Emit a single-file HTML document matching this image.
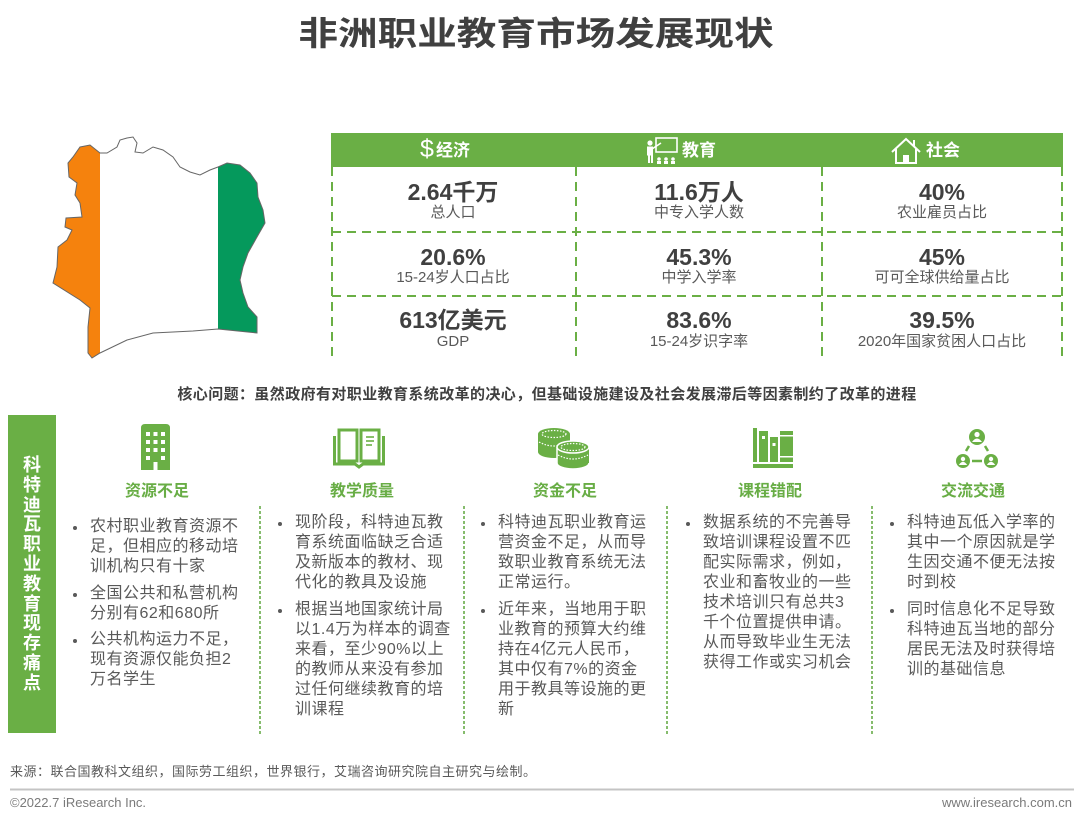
<!DOCTYPE html>
<html><head><meta charset="utf-8">
<style>
html,body{margin:0;padding:0;background:#fff;}
body{width:1080px;height:824px;position:relative;overflow:hidden;font-family:"Liberation Sans","Noto Sans CJK SC",sans-serif;}
.a{position:absolute;white-space:nowrap;}
.title{left:236px;width:600px;top:8px;text-align:center;font-size:33px;font-weight:bold;color:#404040;line-height:46px;transform:scaleX(1.2);transform-origin:center;font-family:"Noto Sans CJK SC",sans-serif;}
.hd{color:#fff;font-weight:bold;font-size:17px;line-height:20px;top:141px;}
.num{width:240px;text-align:center;font-size:23px;font-weight:bold;color:#404040;line-height:26px;}
.lab{width:240px;text-align:center;font-size:15px;color:#595959;line-height:18px;}
.core{left:47px;width:1000px;text-align:center;top:385px;font-size:15px;font-weight:bold;color:#404040;letter-spacing:0.4px;line-height:20px;}
.vbar{left:8px;top:415px;width:48px;height:318px;background:#6aaf45;}
.vtext{left:8px;width:48px;top:456px;text-align:center;color:#fff;font-weight:bold;font-size:18px;line-height:19.8px;white-space:normal;}
.ct{width:160px;text-align:center;color:#68ad45;font-weight:bold;font-size:16px;line-height:20px;top:482px;}
.col{font-size:16px;line-height:20px;color:#595959;letter-spacing:0.5px;}
.col .b{position:relative;margin-bottom:6.5px;}
.col .b::before{content:"";position:absolute;left:-17px;top:9px;width:4px;height:4px;border-radius:50%;background:#595959;}
.src{left:10px;top:763px;font-size:13px;color:#595959;letter-spacing:0.5px;line-height:18px;}
.cp{left:10px;top:795px;font-size:13px;color:#7a7a7a;line-height:16px;}
.url{right:8px;top:795px;font-size:13px;color:#7a7a7a;line-height:16px;}
</style></head>
<body>

<div class="a title">非洲职业教育市场发展现状</div>

<svg class="a" style="left:0;top:0" width="1080" height="824" viewBox="0 0 1080 824">
  <defs>
    <clipPath id="civ">
      <path d="M80,147 L90,145 L100,153 L107,153 L117,147 L120,140 L127,138 L133,137 L137,143 L135,152 L143,153 L153,147 L163,150 L173,157 L180,167 L190,172 L200,175 L210,170 L218,167 L227,163 L240,165 L250,173 L257,183 L258,197 L263,210 L265,223 L257,237 L248,253 L243,267 L240,280 L243,293 L248,307 L257,317 L257,333 L218,329 L193,331 L153,333 L127,340 L100,353 L92,358 L88,353 L88,327 L90,308 L80,300 L53,283 L57,267 L58,247 L67,240 L72,230 L65,227 L66,218 L82,217 L80,203 L75,195 L77,183 L69,177 L68,163 L73,157 Z"/>
    </clipPath>
  </defs>
  <!-- map -->
  <g clip-path="url(#civ)">
    <rect x="40" y="130" width="60" height="240" fill="#F5820D"/>
    <rect x="100" y="130" width="118" height="240" fill="#ffffff"/>
    <rect x="218" y="130" width="60" height="240" fill="#05995C"/>
  </g>
  <path d="M80,147 L90,145 L100,153 L107,153 L117,147 L120,140 L127,138 L133,137 L137,143 L135,152 L143,153 L153,147 L163,150 L173,157 L180,167 L190,172 L200,175 L210,170 L218,167 L227,163 L240,165 L250,173 L257,183 L258,197 L263,210 L265,223 L257,237 L248,253 L243,267 L240,280 L243,293 L248,307 L257,317 L257,333 L218,329 L193,331 L153,333 L127,340 L100,353 L92,358 L88,353 L88,327 L90,308 L80,300 L53,283 L57,267 L58,247 L67,240 L72,230 L65,227 L66,218 L82,217 L80,203 L75,195 L77,183 L69,177 L68,163 L73,157 Z" fill="none" stroke="#666" stroke-width="1"/>

  <!-- table header -->
  <rect x="331" y="133" width="732" height="34" fill="#6aaf45"/>
  <!-- table dashed lines -->
  <g stroke="#6aaf45" stroke-width="2" stroke-dasharray="9 6" fill="none">
    <line x1="332" y1="167" x2="332" y2="360"/>
    <line x1="1062" y1="167" x2="1062" y2="360"/>
    <line x1="576" y1="167" x2="576" y2="360"/>
    <line x1="822" y1="167" x2="822" y2="360"/>
    <line x1="332" y1="232" x2="1062" y2="232"/>
    <line x1="332" y1="296" x2="1062" y2="296"/>
  </g>

  <!-- header icons -->
  <g fill="none" stroke="#fff" stroke-width="1.6">
    <rect x="656" y="138" width="21" height="14"/>
    <line x1="652" y1="149" x2="661" y2="143"/>
  </g>
  <g fill="#fff">
    <circle cx="650" cy="143" r="2.6"/>
    <rect x="647" y="146.5" width="6" height="9"/>
    <rect x="648" y="155" width="2" height="8"/>
    <rect x="651" y="155" width="2" height="8"/>
    <circle cx="659" cy="159" r="1.8"/><rect x="657" y="161" width="4" height="3"/>
    <circle cx="666" cy="159" r="1.8"/><rect x="664" y="161" width="4" height="3"/>
    <circle cx="673" cy="159" r="1.8"/><rect x="671" y="161" width="4" height="3"/>
  </g>
  <g fill="none" stroke="#fff" stroke-width="2">
    <path d="M892,152 L906,139 L920,152"/>
    <path d="M896,149 V163 H916 V149"/>
    <line x1="914" y1="140" x2="914" y2="146"/>
  </g>
  <rect x="903" y="155" width="6" height="8" fill="#fff"/>

  <!-- lower dividers -->
  <g stroke="#5fa53d" stroke-width="1.5" stroke-dasharray="3 2" fill="none">
    <line x1="260" y1="506" x2="260" y2="736"/>
    <line x1="464" y1="506" x2="464" y2="736"/>
    <line x1="667" y1="506" x2="667" y2="736"/>
    <line x1="872" y1="506" x2="872" y2="736"/>
  </g>

  <!-- building icon -->
  <path d="M141,470 V428 Q141,424 145,424 H166 Q170,424 170,428 V470 Z" fill="#6aaf45"/>
  <g fill="#fff">
    <rect x="146" y="432" width="4" height="4"/><rect x="153.5" y="432" width="4" height="4"/><rect x="161" y="432" width="4" height="4"/>
    <rect x="146" y="440" width="4" height="4"/><rect x="153.5" y="440" width="4" height="4"/><rect x="161" y="440" width="4" height="4"/>
    <rect x="146" y="448" width="4" height="4"/><rect x="153.5" y="448" width="4" height="4"/><rect x="161" y="448" width="4" height="4"/>
    <rect x="146" y="456" width="4" height="4"/><rect x="161" y="456" width="4" height="4"/>
    <rect x="153.5" y="462" width="4" height="8"/>
  </g>

  <!-- book icon -->
  <g fill="none" stroke="#6aaf45" stroke-width="3">
    <path d="M334.5,436 V464 H355 L359,467 L363,464 H383.5 V436"/>
    <rect x="339" y="430" width="18" height="31"/>
    <rect x="361" y="430" width="18" height="31"/>
  </g>
  <g stroke="#6aaf45" stroke-width="1.6">
    <line x1="366" y1="437" x2="374" y2="437"/>
    <line x1="366" y1="441" x2="374" y2="441"/>
    <line x1="366" y1="445" x2="372" y2="445"/>
  </g>

  <!-- coins icon -->
  <g>
    <ellipse cx="554" cy="452" rx="16" ry="6" fill="#6aaf45"/>
    <rect x="538" y="434" width="32" height="18" fill="#6aaf45"/>
    <ellipse cx="554" cy="434" rx="16" ry="6" fill="#6aaf45"/>
    <ellipse cx="554" cy="434" rx="12" ry="3.5" fill="none" stroke="#fff" stroke-width="1.2" stroke-dasharray="1.5 1.5"/>
    <path d="M539,442 Q554,450 569,442" fill="none" stroke="#fff" stroke-width="1.2" stroke-dasharray="1.5 1.5"/>
    <ellipse cx="573" cy="463" rx="16" ry="6" fill="#6aaf45" stroke="#fff" stroke-width="1.5"/>
    <rect x="557" y="447" width="32" height="16" fill="#6aaf45"/>
    <line x1="557" y1="447" x2="557" y2="463" stroke="#fff" stroke-width="1.5"/>
    <ellipse cx="573" cy="447" rx="16" ry="6" fill="#6aaf45" stroke="#fff" stroke-width="1.5"/>
    <ellipse cx="573" cy="447" rx="12" ry="3.5" fill="none" stroke="#fff" stroke-width="1.2" stroke-dasharray="1.5 1.5"/>
    <path d="M558,455 Q573,463 588,455" fill="none" stroke="#fff" stroke-width="1.2" stroke-dasharray="1.5 1.5"/>
  </g>

  <!-- books icon -->
  <g fill="#6aaf45">
    <rect x="753" y="428" width="4" height="34"/>
    <rect x="759" y="431" width="9" height="31"/>
    <rect x="770" y="437" width="8" height="25"/>
    <rect x="780" y="431" width="13" height="31"/>
    <rect x="753" y="464" width="40" height="4"/>
  </g>
  <g fill="#fff">
    <rect x="762" y="436" width="3" height="3"/>
    <rect x="772.5" y="443" width="3" height="3"/>
    <rect x="780" y="435" width="13" height="1.5"/>
    <rect x="780" y="456" width="13" height="1.5"/>
  </g>

  <!-- network icon -->
  <g>
    <circle cx="977" cy="437" r="8" fill="#6aaf45"/>
    <circle cx="963" cy="461" r="7" fill="#6aaf45"/>
    <circle cx="991" cy="461" r="7" fill="#6aaf45"/>
    <g fill="#fff">
      <circle cx="977" cy="434.5" r="2.6"/><path d="M972,442 Q977,435 982,442 Z"/>
      <circle cx="963" cy="459" r="2.2"/><path d="M958.8,465 Q963,458.5 967.2,465 Z"/>
      <circle cx="991" cy="459" r="2.2"/><path d="M986.8,465 Q991,458.5 995.2,465 Z"/>
    </g>
    <g stroke="#6aaf45" stroke-width="2.5">
      <line x1="969" y1="446" x2="966" y2="451"/>
      <line x1="985" y1="446" x2="988" y2="451"/>
      <line x1="972" y1="461" x2="982" y2="461"/>
    </g>
  </g>

  <!-- footer line -->
  <line x1="10" y1="789.5" x2="1074" y2="789.5" stroke="#c4c4c4" stroke-width="2"/>
</svg>

<!-- table header text -->
<div class="a" style="left:420px;top:135px;color:#fff;font-size:25px;line-height:28px;">$</div>
<div class="a hd" style="left:436px;">经济</div>
<div class="a hd" style="left:682px;">教育</div>
<div class="a hd" style="left:926px;">社会</div>

<!-- table values -->
<div class="a num" style="left:333px;top:179px;">2.64千万</div>
<div class="a lab" style="left:333px;top:204px;">总人口</div>
<div class="a num" style="left:579px;top:179px;">11.6万人</div>
<div class="a lab" style="left:579px;top:204px;">中专入学人数</div>
<div class="a num" style="left:822px;top:179px;">40%</div>
<div class="a lab" style="left:822px;top:204px;">农业雇员占比</div>

<div class="a num" style="left:333px;top:244px;">20.6%</div>
<div class="a lab" style="left:333px;top:269px;">15-24岁人口占比</div>
<div class="a num" style="left:579px;top:244px;">45.3%</div>
<div class="a lab" style="left:579px;top:269px;">中学入学率</div>
<div class="a num" style="left:822px;top:244px;">45%</div>
<div class="a lab" style="left:822px;top:269px;">可可全球供给量占比</div>

<div class="a num" style="left:333px;top:307px;">613亿美元</div>
<div class="a lab" style="left:333px;top:333px;">GDP</div>
<div class="a num" style="left:579px;top:307px;">83.6%</div>
<div class="a lab" style="left:579px;top:333px;">15-24岁识字率</div>
<div class="a num" style="left:822px;top:307px;">39.5%</div>
<div class="a lab" style="left:822px;top:333px;">2020年国家贫困人口占比</div>

<div class="a core">核心问题：虽然政府有对职业教育系统改革的决心，但基础设施建设及社会发展滞后等因素制约了改革的进程</div>

<div class="a vbar"></div>
<div class="a vtext">科<br>特<br>迪<br>瓦<br>职<br>业<br>教<br>育<br>现<br>存<br>痛<br>点</div>

<div class="a ct" style="left:77px;">资源不足</div>
<div class="a ct" style="left:282px;">教学质量</div>
<div class="a ct" style="left:485px;">资金不足</div>
<div class="a ct" style="left:690px;">课程错配</div>
<div class="a ct" style="left:893px;">交流交通</div>

<div class="a col" style="left:90px;top:517px;">
  <div class="b">农村职业教育资源不<br>足，但相应的移动培<br>训机构只有十家</div>
  <div class="b">全国公共和私营机构<br>分别有62和680所</div>
  <div class="b">公共机构运力不足，<br>现有资源仅能负担2<br>万名学生</div>
</div>
<div class="a col" style="left:295px;top:513px;">
  <div class="b">现阶段，科特迪瓦教<br>育系统面临缺乏合适<br>及新版本的教材、现<br>代化的教具及设施</div>
  <div class="b">根据当地国家统计局<br>以1.4万为样本的调查<br>来看，至少90%以上<br>的教师从来没有参加<br>过任何继续教育的培<br>训课程</div>
</div>
<div class="a col" style="left:498px;top:513px;">
  <div class="b">科特迪瓦职业教育运<br>营资金不足，从而导<br>致职业教育系统无法<br>正常运行。</div>
  <div class="b">近年来，当地用于职<br>业教育的预算大约维<br>持在4亿元人民币，<br>其中仅有7%的资金<br>用于教具等设施的更<br>新</div>
</div>
<div class="a col" style="left:703px;top:513px;">
  <div class="b">数据系统的不完善导<br>致培训课程设置不匹<br>配实际需求，例如，<br>农业和畜牧业的一些<br>技术培训只有总共3<br>千个位置提供申请。<br>从而导致毕业生无法<br>获得工作或实习机会</div>
</div>
<div class="a col" style="left:907px;top:513px;">
  <div class="b">科特迪瓦低入学率的<br>其中一个原因就是学<br>生因交通不便无法按<br>时到校</div>
  <div class="b">同时信息化不足导致<br>科特迪瓦当地的部分<br>居民无法及时获得培<br>训的基础信息</div>
</div>

<div class="a src">来源：联合国教科文组织，国际劳工组织，世界银行，艾瑞咨询研究院自主研究与绘制。</div>
<div class="a cp">©2022.7 iResearch Inc.</div>
<div class="a url">www.iresearch.com.cn</div>

</body></html>
